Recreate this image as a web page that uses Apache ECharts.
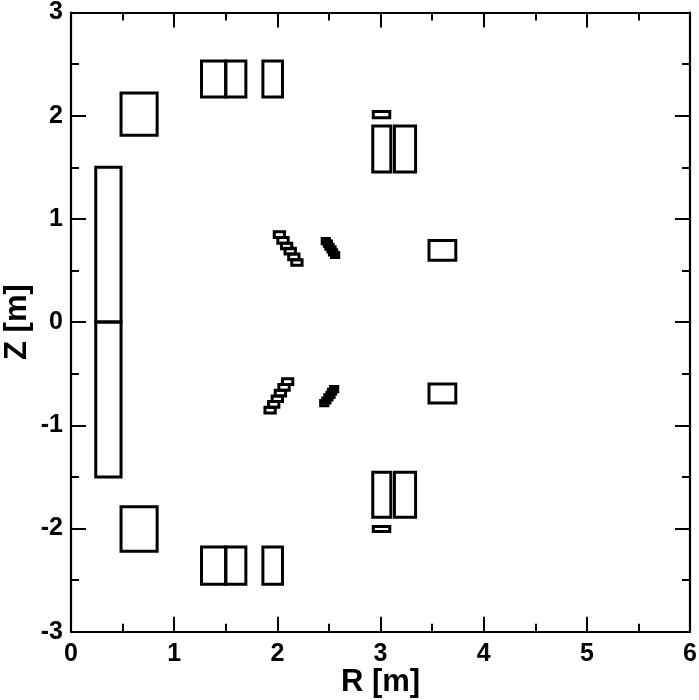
<!DOCTYPE html>
<html>
<head>
<meta charset="utf-8">
<script src="https://cdn.jsdelivr.net/npm/echarts@6/dist/echarts.min.js"></script>
<style>
  html, body { margin: 0; padding: 0; background: #fff; }
  #main { width: 699px; height: 700px; }
</style>
</head>
<body>
<div id="main"></div>
<script>
// coil boxes as [Rmin, Rmax, Zmin, Zmax], all in metres
var solenoid = [
  [0.24, 0.485, 0, 1.5],
  [0.24, 0.485, -1.5, 0]
];
var upperCoils = [
  [0.485, 0.835, 1.81, 2.22],
  [1.265, 1.5, 2.18, 2.53],
  [1.5, 1.695, 2.18, 2.53],
  [1.86, 2.05, 2.18, 2.53],
  [2.93, 3.09, 1.98, 2.04],
  [2.925, 3.1, 1.455, 1.9],
  [3.135, 3.34, 1.455, 1.9],
  [3.47, 3.73, 0.6, 0.79]
];
var lowerCoils = [
  [0.485, 0.835, -2.22, -1.79],
  [1.265, 1.5, -2.54, -2.18],
  [1.5, 1.695, -2.54, -2.18],
  [1.86, 2.05, -2.54, -2.18],
  [2.93, 3.09, -2.03, -1.98],
  [2.925, 3.1, -1.89, -1.455],
  [3.135, 3.34, -1.89, -1.455],
  [3.47, 3.73, -0.785, -0.6]
];
var upperStack1 = [
  [1.97, 2.07, 0.82, 0.875],
  [2.005, 2.105, 0.765, 0.82],
  [2.04, 2.14, 0.71, 0.765],
  [2.075, 2.175, 0.66, 0.715],
  [2.11, 2.21, 0.605, 0.66],
  [2.14, 2.24, 0.55, 0.605]
];
var upperStack2 = [
  [2.435, 2.505, 0.76, 0.81],
  [2.455, 2.525, 0.735, 0.785],
  [2.47, 2.54, 0.705, 0.755],
  [2.49, 2.56, 0.68, 0.73],
  [2.505, 2.575, 0.65, 0.7],
  [2.525, 2.595, 0.625, 0.675]
];
var lowerStack1 = [
  [2.05, 2.15, -0.605, -0.55],
  [2.015, 2.115, -0.66, -0.605],
  [1.98, 2.08, -0.715, -0.66],
  [1.95, 2.05, -0.77, -0.715],
  [1.915, 2.015, -0.825, -0.77],
  [1.88, 1.98, -0.88, -0.825]
];
var lowerStack2 = [
  [2.515, 2.585, -0.675, -0.625],
  [2.495, 2.565, -0.7, -0.65],
  [2.48, 2.55, -0.73, -0.68],
  [2.46, 2.53, -0.755, -0.705],
  [2.44, 2.51, -0.785, -0.735],
  [2.42, 2.49, -0.81, -0.76]
];

var coils = solenoid.concat(upperCoils, lowerCoils, upperStack1, upperStack2, lowerStack1, lowerStack2);

var LABEL_FONT = '"Liberation Sans", Arial, sans-serif';

function coilBox(params, api) {
  var p0 = api.coord([api.value(0), api.value(3)]);
  var p1 = api.coord([api.value(1), api.value(2)]);
  return {
    type: 'rect',
    shape: { x: p0[0], y: p0[1], width: p1[0] - p0[0], height: p1[1] - p0[1] },
    style: { fill: 'none', stroke: '#000', lineWidth: 3 }
  };
}

// frame: ticks point inward, major and minor on all four sides
function axisBase(name, min, max, nameGap) {
  return {
    type: 'value',
    name: name,
    nameLocation: 'middle',
    nameGap: nameGap,
    nameMoveOverlap: false,
    nameTextStyle: { fontFamily: LABEL_FONT, fontWeight: 'bold', fontSize: 31, color: '#000' },
    min: min,
    max: max,
    interval: 1,
    splitLine: { show: false },
    axisLine: { show: true, onZero: false, lineStyle: { color: '#000', width: 2.2 } },
    axisTick: { show: true, inside: true, length: 15, lineStyle: { color: '#000', width: 2 } },
    minorTick: { show: true, splitNumber: 2, length: 8, lineStyle: { color: '#000', width: 2 } },
    axisLabel: {
      fontFamily: LABEL_FONT, fontWeight: 'bold', fontSize: 25, color: '#000',
      margin: 8, showMinLabel: true, showMaxLabel: true, hideOverlap: false
    }
  };
}

function mirror(ax, pos) {
  var m = axisBase('', ax.min, ax.max, 0);
  m.position = pos;
  m.axisLabel = { show: false };
  return m;
}

var xBottom = axisBase('R [m]', 0, 6, 35);
var yLeft = axisBase('Z [m]', -3, 3, 38);
xBottom.position = 'bottom';
yLeft.position = 'left';
xBottom.axisLabel.margin = 10;
yLeft.axisLabel.padding = [3, 0, 0, 0];

var chart = echarts.init(document.getElementById('main'), null, { renderer: 'canvas' });
chart.setOption({
  animation: false,
  backgroundColor: '#fff',
  grid: { left: 71, right: 9, top: 12.5, bottom: 68.3, outerBoundsMode: 'none' },
  xAxis: [xBottom, mirror(xBottom, 'top')],
  yAxis: [yLeft, mirror(yLeft, 'right')],
  series: [{
    type: 'custom',
    coordinateSystem: 'cartesian2d',
    xAxisIndex: 0,
    yAxisIndex: 0,
    renderItem: coilBox,
    clip: false,
    encode: { x: [0, 1], y: [2, 3] },
    data: coils
  }]
});
</script>
</body>
</html>
